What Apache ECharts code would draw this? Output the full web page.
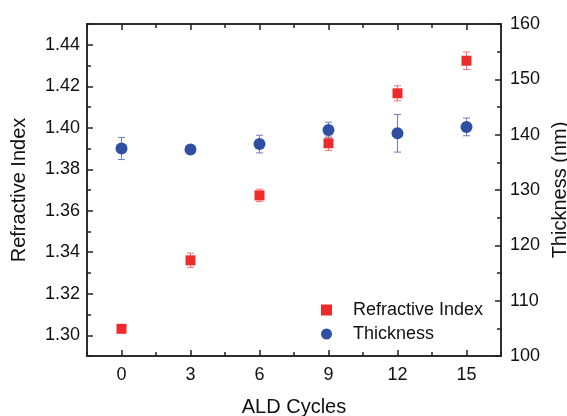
<!DOCTYPE html>
<html>
<head>
<meta charset="utf-8">
<script src="https://cdn.jsdelivr.net/npm/echarts@6/dist/echarts.min.js"></script>
<style>
    html, body {margin: 0; padding: 0; background: #fff;}
    #chart {width: 567px; height: 416px;}
</style>
</head>
<body>
<div id="chart"></div>
<script>
// ALD cycles
const cycles = [0, 3, 6, 9, 12, 15];

// refractive index (left axis) and its error
const refIndex = [1.3031, 1.3361, 1.3674, 1.3925, 1.4166, 1.4323];
const refErr = [0.001, 0.0035, 0.003, 0.0035, 0.0036, 0.0042];

// thickness in nm (right axis) and its error
const thickness = [137.5, 137.3, 138.3, 140.85, 140.25, 141.4];
const thickErr = [2.0, 0.5, 1.6, 1.4, 3.4, 1.6];

// tick values
const xMajor = [0, 3, 6, 9, 12, 15];
const xMinor = [-1.5, 1.5, 4.5, 7.5, 10.5, 13.5, 16.5];
const riMajor = [1.30, 1.32, 1.34, 1.36, 1.38, 1.40, 1.42, 1.44];
const riMinor = [1.29, 1.31, 1.33, 1.35, 1.37, 1.39, 1.41, 1.43, 1.45];
const thMajor = [100, 110, 120, 130, 140, 150, 160];
const thMinor = [105, 115, 125, 135, 145, 155];

const red = '#ee2b2b';
const blue = '#2f4fa3';
const font = 'Liberation Sans, Arial, sans-serif';
const lineStyle = {color: '#222', width: 1.5};

const chartDom = document.getElementById('chart');
const myChart = echarts.init(chartDom);

function errorBars(values, errs, color, yIndex) {
    return {
        type: 'custom',
        xAxisIndex: 0,
        yAxisIndex: yIndex,
        silent: true,
        z: 1,
        data: cycles.map((c, i) => [c, values[i] - errs[i], values[i] + errs[i]]),
        renderItem: function (params, api) {
            const low = api.coord([api.value(0), api.value(1)]);
            const high = api.coord([api.value(0), api.value(2)]);
            const w = 3.5;
            const style = {stroke: color, lineWidth: 1};
            return {
                type: 'group',
                children: [
                    {type: 'line', shape: {x1: low[0], y1: low[1], x2: high[0], y2: high[1]}, style: style},
                    {type: 'line', shape: {x1: low[0] - w, y1: low[1], x2: low[0] + w, y2: low[1]}, style: style},
                    {type: 'line', shape: {x1: high[0] - w, y1: high[1], x2: high[0] + w, y2: high[1]}, style: style}
                ]
            };
        }
    };
}

function tickAxis(base, values, len) {
    return Object.assign({
        axisLine: {show: true, onZero: false, lineStyle: lineStyle},
        axisTick: {show: true, inside: true, length: len, lineStyle: lineStyle, customValues: values},
        axisLabel: {show: false},
        splitLine: {show: false}
    }, base);
}

const xBase = {type: 'value', min: -1.5, max: 16.5, interval: 1.5};
const riBase = {type: 'value', min: 1.29, max: 1.45, interval: 0.01};
const thBase = {type: 'value', min: 100, max: 160, interval: 5};

const option = {
    animation: false,
    textStyle: {fontFamily: font},
    grid: {left: 87, right: 66, top: 24, bottom: 60, outerBoundsMode: 'none', containLabel: false},
    legend: {
        orient: 'vertical',
        left: 316,
        top: 296,
        itemWidth: 11,
        itemHeight: 11,
        itemGap: 6,
        textStyle: {fontSize: 18, color: '#111', fontFamily: font, padding: [0, 0, 0, 16]},
        data: [
            {name: 'Refractive Index', icon: 'rect'},
            {name: 'Thickness', icon: 'circle'}
        ]
    },
    xAxis: [
        Object.assign({}, xBase, {
            position: 'bottom',
            name: 'ALD Cycles',
            nameLocation: 'middle',
            nameGap: 41,
            nameTextStyle: {fontSize: 20, color: '#111', fontFamily: font},
            axisLine: {show: true, onZero: false, lineStyle: lineStyle},
            axisTick: {show: true, inside: true, length: 6, lineStyle: lineStyle, customValues: xMajor},
            axisLabel: {fontSize: 18, color: '#111', margin: 10, customValues: xMajor, fontFamily: font},
            splitLine: {show: false}
        }),
        tickAxis(Object.assign({}, xBase, {position: 'bottom'}), xMinor, 4),
        tickAxis(Object.assign({}, xBase, {position: 'top'}), xMajor, 6),
        tickAxis(Object.assign({}, xBase, {position: 'top'}), xMinor, 4)
    ],
    yAxis: [
        Object.assign({}, riBase, {
            position: 'left',
            name: 'Refractive Index',
            nameLocation: 'middle',
            nameRotate: 90,
            nameGap: 58,
            nameTextStyle: {fontSize: 20, color: '#111', fontFamily: font},
            axisLine: {show: true, onZero: false, lineStyle: lineStyle},
            axisTick: {show: true, inside: true, length: 6, lineStyle: lineStyle, customValues: riMajor},
            axisLabel: {fontSize: 18, color: '#111', margin: 7, customValues: riMajor, fontFamily: font,
                formatter: v => v.toFixed(2)},
            splitLine: {show: false}
        }),
        Object.assign({}, thBase, {
            position: 'right',
            name: 'Thickness (nm)',
            nameLocation: 'middle',
            nameRotate: 90,
            nameGap: 47,
            nameTextStyle: {fontSize: 20, color: '#111', fontFamily: font},
            axisLine: {show: true, onZero: false, lineStyle: lineStyle},
            axisTick: {show: true, inside: true, length: 6, lineStyle: lineStyle, customValues: thMajor},
            axisLabel: {fontSize: 18, color: '#111', margin: 9, customValues: thMajor, fontFamily: font},
            splitLine: {show: false}
        }),
        tickAxis(Object.assign({}, riBase, {position: 'left'}), riMinor, 4),
        tickAxis(Object.assign({}, thBase, {position: 'right'}), thMinor, 4)
    ],
    series: [
        errorBars(refIndex, refErr, '#f27474', 0),
        errorBars(thickness, thickErr, '#6d7dc4', 1),
        {
            name: 'Refractive Index',
            type: 'scatter',
            xAxisIndex: 0,
            yAxisIndex: 0,
            symbol: 'rect',
            symbolSize: 10,
            itemStyle: {color: red, opacity: 1},
            z: 3,
            data: cycles.map((c, i) => [c, refIndex[i]])
        },
        {
            name: 'Thickness',
            type: 'scatter',
            xAxisIndex: 0,
            yAxisIndex: 1,
            symbol: 'circle',
            symbolSize: 12,
            itemStyle: {color: blue, opacity: 1},
            z: 3,
            data: cycles.map((c, i) => [c, thickness[i]])
        }
    ]
};

option && myChart.setOption(option);
</script>
</body>
</html>
